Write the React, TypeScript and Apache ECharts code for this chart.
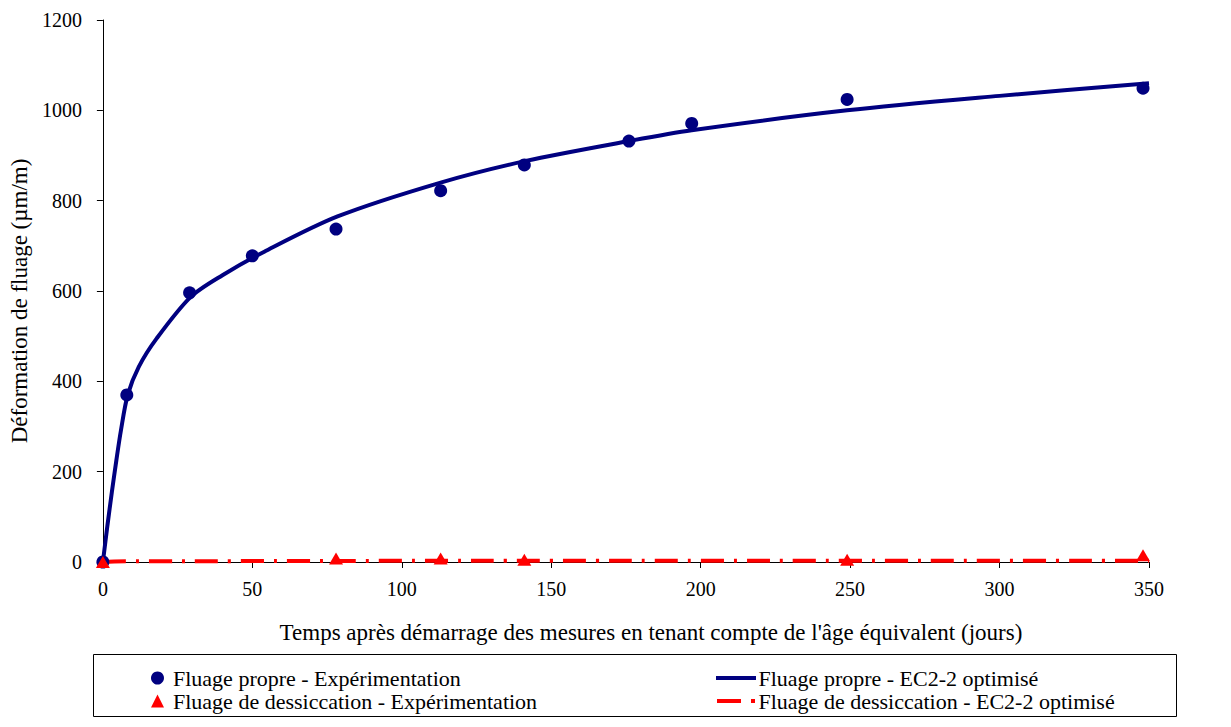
import React, { useEffect, useRef } from "react";
import * as echarts from "echarts";

const expDays = [0, 8, 29, 50, 78, 113, 141, 176, 197, 249, 348];
const propreExp = [0, 370, 596, 678, 737, 822, 879, 932, 971, 1024, 1049];
const dessDays = [0, 78, 113, 141, 176, 197, 249, 348];
const dessExp = [0, 8, 8, 5, -3, -3, 5, 15];
const fitDays = [0, 1.5, 3, 4.5, 6, 8.3, 12, 18, 29.4, 40, 54, 78.5, 113, 141.5, 176, 197, 249, 300, 350];
const propreFit = [0, 80, 155, 225, 290, 370, 432, 495, 587, 635, 687, 765, 840, 888, 932, 956, 1000, 1032, 1060];
const dessFitDays = [0, 8, 50, 100, 150, 200, 250, 300, 350];
const dessFit = [0, 1.5, 2, 2.5, 2.5, 3, 3, 3, 3];

const S1 = "Fluage propre - Expérimentation";
const S2 = "Fluage propre - EC2-2 optimisé";
const S3 = "Fluage de dessiccation - Expérimentation";
const S4 = "Fluage de dessiccation - EC2-2 optimisé";

const FONT = "Liberation Serif";
const BLUE = "#000080";
const RED = "#FF0000";

const zip = (xs: number[], ys: number[]) => xs.map((x, i) => [x, ys[i]]);

export default function App() {
  const ref = useRef<HTMLDivElement>(null);
  useEffect(() => {
    if (!ref.current) return;
    const chart = echarts.init(ref.current, undefined, { renderer: "svg" });
    const tick = { fontFamily: FONT, fontSize: 20, color: "#000" };
    const title = { fontFamily: FONT, fontSize: 23, color: "#000" };
    const leg = { fontFamily: FONT, fontSize: 22, color: "#000" };
    chart.setOption({
      animation: false,
      backgroundColor: "#fff",
      textStyle: { fontFamily: FONT },
      grid: { left: 98, right: 82, top: 20, bottom: 165 },
      xAxis: {
        type: "value",
        min: 0,
        max: 350,
        interval: 50,
        name: "Temps après démarrage des mesures en tenant compte de l'âge équivalent (jours)",
        nameLocation: "middle",
        nameGap: 59,
        nameTextStyle: { ...title, padding: [0, 0, 0, 50] },
        axisLine: { show: true, onZero: false, lineStyle: { color: "#000", width: 1 } },
        axisTick: { show: true, inside: false, length: 6, lineStyle: { color: "#000" } },
        axisLabel: { ...tick, margin: 17, formatter: (v: number) => String(v) },
        splitLine: { show: false },
      },
      yAxis: {
        type: "value",
        min: 0,
        max: 1200,
        interval: 200,
        name: "Déformation de fluage (µm/m)",
        nameLocation: "middle",
        nameRotate: 90,
        nameGap: 68,
        nameTextStyle: { ...title, padding: [0, 20, 0, 0] },
        axisLine: { show: true, lineStyle: { color: "#000", width: 1 } },
        axisTick: { show: true, inside: false, length: 6, lineStyle: { color: "#000" } },
        axisLabel: { ...tick, margin: 21, formatter: (v: number) => String(v) },
        splitLine: { show: false },
      },
      legend: [
        {
          left: 146,
          top: 662,
          orient: "vertical",
          itemGap: 1,
          itemWidth: 13,
          itemHeight: 13,
          textStyle: { ...leg, padding: [0, 0, 0, 4] },
          data: [
            { name: S1, icon: "circle" },
            { name: S3, icon: "triangle" },
          ],
        },
        {
          left: 711,
          top: 662,
          orient: "vertical",
          itemGap: 1,
          itemWidth: 45,
          itemHeight: 4,
          textStyle: { ...leg, padding: [0, 0, 0, -5] },
          data: [
            { name: S2, icon: "path://M0,0h40v4h-40z" },
            { name: S4, icon: "path://M0,0h24v4h-24z M34,0h4v4h-4z" },
          ],
        },
      ],
      graphic: [
        {
          type: "rect",
          shape: { x: 93.5, y: 654.5, width: 1083, height: 62 },
          style: { fill: "none", stroke: "#000", lineWidth: 1 },
          silent: true,
        },
      ],
      series: [
        {
          name: S2,
          type: "line",
          data: zip(fitDays, propreFit),
          smooth: 0.3,
          showSymbol: false,
          symbol: "none",
          lineStyle: { color: BLUE, width: 4 },
          itemStyle: { color: BLUE },
          z: 2,
        },
        {
          name: S4,
          type: "line",
          data: zip(dessFitDays, dessFit),
          smooth: true,
          showSymbol: false,
          symbol: "none",
          lineStyle: { color: RED, width: 4, type: [23, 10, 3, 10] },
          itemStyle: { color: RED },
          z: 2,
        },
        {
          name: S1,
          type: "scatter",
          data: zip(expDays, propreExp),
          symbol: "circle",
          symbolSize: 13,
          itemStyle: { color: BLUE, opacity: 1 },
          z: 3,
        },
        {
          name: S3,
          type: "scatter",
          data: zip(dessDays, dessExp),
          symbol: "triangle",
          symbolSize: [14, 12],
          itemStyle: { color: RED, opacity: 1 },
          z: 4,
        },
      ],
    });
    return () => chart.dispose();
  }, []);
  return (
    <div
      ref={ref}
      style={{ position: "fixed", left: 0, top: 0, width: 1231, height: 727, background: "#fff" }}
    />
  );
}
